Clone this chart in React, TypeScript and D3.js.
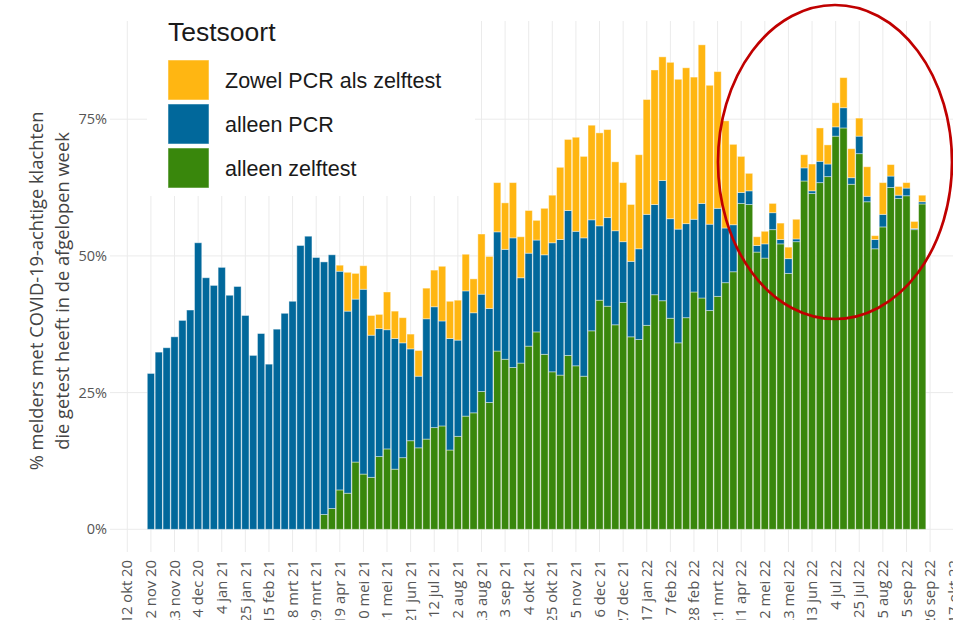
import React from "react";
import * as d3 from "d3";

const W = 953;
const H = 627;

// Series values (% of respondents), one entry per week from 2 nov 2020
const alleenZelftest = [
  0, 0, 0, 0, 0, 0, 0, 0, 0, 0, 0, 0, 0, 0, 0, 0, 0, 0, 0, 0, 0, 0,
  2.7, 3.8, 7.2, 6.6, 12.3, 10.1, 9.5, 13.3, 14.7, 11.0, 13.1, 16.2, 14.9, 16.5, 18.6, 18.9,
  14.5, 17.0, 20.7, 21.3, 25.2, 23.2, 32.6, 31.1, 29.6, 30.4, 33.5, 36.1, 32.0, 28.8, 28.2,
  31.8, 29.9, 28.0, 36.3, 41.9, 40.8, 37.4, 41.5, 35.2, 34.7, 37.3, 42.9, 41.8, 38.6, 34.1,
  38.7, 43.4, 42.3, 40.0, 42.6, 45.1, 47.1, 59.6, 59.4, 50.7, 49.6, 54.8, 52.2, 46.8, 52.6,
  63.7, 61.4, 63.4, 64.5, 71.9, 73.4, 63.1, 68.7, 59.9, 51.3, 55.3, 62.5, 60.5, 61.0, 54.8, 59.5,
];
const alleenPCR = [
  28.5, 32.4, 33.2, 35.2, 38.2, 40.1, 52.4, 46.0, 44.6, 47.9, 42.8, 44.4, 39.1, 31.8, 35.8,
  30.2, 36.6, 39.5, 41.7, 51.9, 53.6, 49.7, 46.2, 46.4, 40.0, 33.3, 29.8, 33.8, 26.0, 23.4,
  21.8, 23.9, 21.0, 16.8, 13.1, 22.0, 22.1, 19.2, 20.4, 17.6, 22.9, 18.3, 17.8, 17.2, 21.8,
  20.1, 23.7, 15.6, 17.0, 16.8, 18.2, 23.6, 24.8, 26.5, 24.6, 25.3, 20.3, 13.6, 16.2, 17.2,
  11.1, 13.8, 16.6, 20.3, 16.5, 22.0, 18.2, 20.8, 17.2, 13.3, 17.3, 15.8, 16.1, 10.0, 8.6,
  2.0, 2.5, 1.2, 2.6, 3.1, 0.8, 2.7, 0.5, 2.4, 0.5, 3.9, 2.3, 1.7, 3.7, 1.2, 3.2, 1.0, 1.7,
  2.3, 2.1, 0.6, 1.4, 0.2, 0.4,
];
const zowelPcrAlsZelftest = [
  0, 0, 0, 0, 0, 0, 0, 0, 0, 0, 0, 0, 0, 0, 0, 0, 0, 0, 0, 0, 0, 0, 0, 0,
  1.1, 7.1, 4.7, 4.3, 3.6, 2.6, 6.9, 5.0, 4.6, 2.7, 4.7, 5.6, 6.7, 10.0, 6.8, 7.3, 6.7, 6.2,
  11.0, 9.5, 9.0, 8.5, 10.1, 7.5, 7.8, 3.6, 8.5, 8.7, 13.2, 13.0, 17.2, 14.9, 17.3, 17.0,
  16.1, 12.6, 10.8, 10.4, 17.2, 21.0, 24.6, 22.6, 28.6, 27.4, 28.5, 26.0, 29.0, 25.4, 25.0,
  19.6, 14.7, 6.6, 3.2, 1.6, 2.3, 1.7, 3.0, 2.1, 3.6, 2.4, 4.9, 6.1, 3.5, 4.4, 5.5, 5.3, 3.3,
  5.4, 0.7, 5.8, 2.1, 1.6, 1.0, 1.3, 1.2,
];

// Categories: weeks (Mondays)
const weekStarts = d3.timeMonday.range(new Date(2020, 10, 2), new Date(2022, 8, 20));

const tickLabels = [
  "12 okt 20", "2 nov 20", "23 nov 20", "14 dec 20", "4 jan 21", "25 jan 21", "15 feb 21",
  "8 mrt 21", "29 mrt 21", "19 apr 21", "10 mei 21", "31 mei 21", "21 jun 21", "12 jul 21",
  "2 aug 21", "23 aug 21", "13 sep 21", "4 okt 21", "25 okt 21", "15 nov 21", "6 dec 21",
  "27 dec 21", "17 jan 22", "7 feb 22", "28 feb 22", "21 mrt 22", "11 apr 22", "2 mei 22",
  "23 mei 22", "13 jun 22", "4 jul 22", "25 jul 22", "15 aug 22", "5 sep 22", "26 sep 22",
  "17 okt 22",
];
const dutchMonths = ["jan", "feb", "mrt", "apr", "mei", "jun", "jul", "aug", "sep", "okt", "nov", "dec"];
const yTicks = [0, 25, 50, 75];
const yTickLabels = ["0%", "25%", "50%", "75%"];

const seriesKeys = ["zelftest", "pcr", "zowel"];
const seriesColors: Record<string, string> = {
  zelftest: "#39870C",
  pcr: "#01689B",
  zowel: "#FFB612",
};
const legendItems = [
  { key: "zowel", label: "Zowel PCR als zelftest" },
  { key: "pcr", label: "alleen PCR" },
  { key: "zelftest", label: "alleen zelftest" },
];

function parseLabel(s: string): Date {
  const [d, m, y] = s.split(" ");
  return new Date(2000 + +y, dutchMonths.indexOf(m), +d);
}

export default function App() {
  const x = d3
    .scaleTime()
    .domain([new Date(2020, 9, 12), new Date(2022, 9, 17)])
    .range([127.3, 953.7]);
  const y = d3.scaleLinear().domain([0, 100]).range([529.3, -17.5]);

  const rows = weekStarts.map((d, i) => ({
    date: d,
    zelftest: alleenZelftest[i] ?? 0,
    pcr: alleenPCR[i] ?? 0,
    zowel: zowelPcrAlsZelftest[i] ?? 0,
  }));
  const stacked = d3.stack<any>().keys(seriesKeys)(rows);
  const weekPx = x(new Date(2020, 10, 9)) - x(new Date(2020, 10, 2));
  const bw = weekPx * 0.92;

  const plotTop = 21;
  const plotBottom = 552;
  const plotLeft = 110;

  return (
    <div style={{ position: "absolute", left: 0, top: 0, width: W, height: H, overflow: "hidden", background: "#fff" }}>
      <svg width={W} height={H} style={{ display: "block" }} fontFamily="'Open Sans', sans-serif">
        <defs>
          <clipPath id="xlabclip">
            <rect x={0} y={0} width={W} height={620} />
          </clipPath>
        </defs>
        <rect x={0} y={0} width={W} height={H} fill="#fff" />
        {/* vertical gridlines */}
        {tickLabels.map((t) => {
          const xx = x(parseLabel(t));
          return (
            <line key={"vg" + t} x1={xx} x2={xx} y1={plotTop} y2={plotBottom} stroke="#ebebeb" strokeWidth={1} />
          );
        })}
        {/* horizontal gridlines */}
        {yTicks.map((v) => (
          <line key={"hg" + v} x1={plotLeft} x2={W} y1={y(v)} y2={y(v)} stroke="#ebebeb" strokeWidth={1} />
        ))}
        {/* legend background */}
        <rect x={147} y={0} width={328} height={196} fill="#fff" />
        {/* bars */}
        {stacked.map((s) => (
          <g key={s.key} fill={seriesColors[s.key]}>
            {s.map((seg: any, i: number) => {
              const h = y(seg[0]) - y(seg[1]);
              if (h <= 0) return null;
              return (
                <rect
                  key={i}
                  x={x(seg.data.date) - bw / 2}
                  y={y(seg[1])}
                  width={bw}
                  height={h}
                  stroke="rgba(255,255,255,0.45)"
                  strokeWidth={0.9}
                />
              );
            })}
          </g>
        ))}
        {/* y tick labels */}
        {yTicks.map((v, i) => (
          <text key={"yt" + v} x={107} y={y(v)} dy="0.35em" textAnchor="end" fontSize={14.5} fill="#555">
            {yTickLabels[i]}
          </text>
        ))}
        {/* x tick labels */}
        <g clipPath="url(#xlabclip)">
          {tickLabels.map((t) => {
            const xx = x(parseLabel(t));
            return (
              <text
                key={"xt" + t}
                transform={`translate(${xx},560) rotate(-90)`}
                dy="0.35em"
                textAnchor="end"
                fontSize={14.8}
                fill="#555"
              >
                {t}
              </text>
            );
          })}
        </g>
        {/* y axis title */}
        <g transform="translate(0,291) rotate(-90)" fill="#444" fontSize={18.3}>
          <text x={0} y={43} textAnchor="middle">% melders met COVID-19-achtige klachten</text>
          <text x={0} y={69} textAnchor="middle">die getest heeft in de afgelopen week</text>
        </g>
        {/* legend */}
        <g fontFamily="'Liberation Sans', Arial, sans-serif" fill="#1a1a1a">
          <text x={168} y={41} fontSize={26.5}>Testsoort</text>
          {legendItems.map((it, i) => (
            <g key={it.key} transform={`translate(168,${60 + i * 44})`}>
              <rect x={0} y={0} width={41} height={40} fill={seriesColors[it.key]} stroke="rgba(255,255,255,0.5)" strokeWidth={1} />
              <text x={57} y={20} dy="0.35em" fontSize={21.5}>{it.label}</text>
            </g>
          ))}
        </g>
        {/* annotation ellipse */}
        <ellipse cx={835} cy={162} rx={117} ry={157} fill="none" stroke="#C00000" strokeWidth={2.7} />
      </svg>
    </div>
  );
}
